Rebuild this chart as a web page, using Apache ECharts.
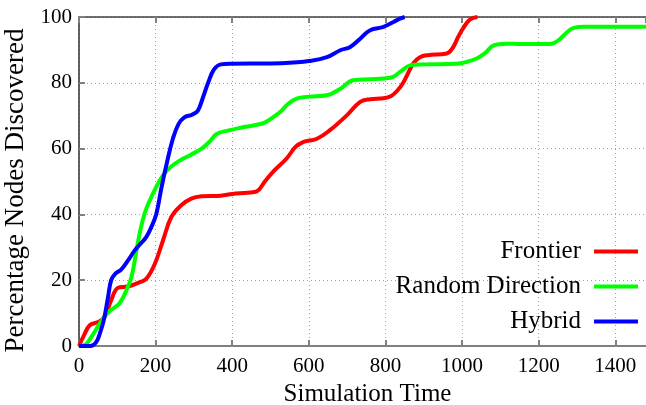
<!DOCTYPE html>
<html><head><meta charset="utf-8">
<script src="https://cdn.jsdelivr.net/npm/echarts@6/dist/echarts.min.js"></script>
<style>html,body{margin:0;padding:0;background:#fff}#c{width:646px;height:405px}</style>
</head><body><div id="c"></div>
<script>
var seriesNames = ['Frontier', 'Random Direction', 'Hybrid'];
var xTicks = [0, 200, 400, 600, 800, 1000, 1200, 1400];
var yTicks = [0, 20, 40, 60, 80, 100];

var frontierX = [0,12,28,50,67,84,102,128,154,176,198,219,241,267,293,320,370,400,440,464,485,507,542,565,585,621,655,699,734,760,795,815,830,847,873,890,910,960,975,990,1005,1021,1040];
var frontierY = [0,3,6.3,7.3,8.8,13.9,17.7,18.1,19.2,20.5,25,32,39.2,42.8,44.8,45.5,45.7,46.2,46.6,47,50,53,57,60.5,62,63,65.6,70.1,74.2,75,75.3,76,77.5,80.2,86,87.8,88.4,88.9,90.5,94,97,99.3,100];

var randomX = [0,15,32,54,70,84,106,124,137,150,158,171,185,200,220,240,265,290,320,340,360,394,420,481,500,525,545,568,600,647,682,716,760,795,820,838,864,900,986,1010,1038,1060,1082,1117,1152,1230,1250,1265,1291,1320,1480];
var randomY = [0,0.3,2.7,6.8,9.5,11,13,17,21,29,34,40.2,44.3,48,52,54.5,56.5,58,60,62,64.5,65.6,66.3,67.7,69,71.1,73.5,75.2,75.8,76.2,78.2,80.8,81.1,81.3,81.8,83.3,85.3,85.6,85.8,86.3,87.4,89,91.4,91.9,91.8,91.8,92.8,94.4,96.7,97,97];

var hybridX = [0,30,45,55,65,76,84,95,110,128,145,160,175,189,202,215,230,245,260,275,295,310,322,337,352,370,400,500,560,600,647,682,708,734,760,795,821,838,850];
var hybridY = [0,0,1.2,4,8,15,20,22,23.2,26,29,31,33,36.2,40.2,48,56,63,67.5,69.5,70.3,71.5,75,80,84,85.6,85.8,85.9,86.2,86.6,87.8,89.9,90.9,93.4,96,97,98.5,99.5,100];

function zip(xs, ys) { return xs.map(function (x, i) { return [x, ys[i]]; }); }

var FONT = 'Liberation Serif';
var chart = echarts.init(document.getElementById('c'), null, {renderer: 'canvas'});
var gridLine = {show: true, lineStyle: {color: '#a0a0a0', type: [1, 3], width: 1}};
chart.setOption({
  animation: false,
  backgroundColor: '#fff',
  grid: {left: 79, right: 0, top: 17, bottom: 59, containLabel: false, outerBoundsMode: 'none'},
  legend: {
    orient: 'vertical', align: 'right', right: 8, top: 239, padding: 0,
    itemWidth: 44, itemHeight: 4, itemGap: 10, icon: 'rect',
    textStyle: {fontFamily: FONT, fontSize: 25, color: '#000', padding: [0, 8, 0, 0]},
    data: seriesNames
  },
  xAxis: [{
    type: 'value', min: 0, max: 1480, interval: 200,
    name: 'Simulation Time', nameLocation: 'middle', nameGap: 36,
    nameTextStyle: {fontFamily: FONT, fontSize: 25, color: '#000', padding: [0, 0, 0, 10]},
    axisLine: {lineStyle: {color: '#808080', width: 2}},
    axisTick: {inside: true, length: 6, lineStyle: {color: '#808080', width: 2}},
    axisLabel: {fontFamily: FONT, fontSize: 21, color: '#000', margin: 10, showMaxLabel: false,
      formatter: function (v) { return xTicks.indexOf(v) >= 0 ? String(v) : ''; }},
    splitLine: gridLine
  }, {
    type: 'value', min: 0, max: 1480, interval: 200, position: 'top',
    axisLine: {onZero: false, lineStyle: {color: '#404040', width: 1.5}},
    axisTick: {inside: true, length: 6, lineStyle: {color: '#808080', width: 2}},
    axisLabel: {show: false}, splitLine: {show: false}
  }],
  yAxis: {
    type: 'value', min: 0, max: 100, interval: 20,
    name: 'Percentage Nodes Discovered', nameLocation: 'middle', nameGap: 42,
    nameTextStyle: {fontFamily: FONT, fontSize: 27, color: '#000', padding: [0, 18, 0, 0]},
    axisLine: {show: true, lineStyle: {color: '#303030', width: 1.5}},
    axisTick: {show: true, inside: true, length: 6, lineStyle: {color: '#808080', width: 2}},
    axisLabel: {fontFamily: FONT, fontSize: 21, color: '#000', margin: 7,
      formatter: function (v) { return yTicks.indexOf(v) >= 0 ? String(v) : ''; }},
    splitLine: gridLine
  },
  series: [
    {name: seriesNames[0], type: 'line', data: zip(frontierX, frontierY), showSymbol: false, smooth: 0.4, color: '#ff0000', lineStyle: {width: 4}},
    {name: seriesNames[1], type: 'line', data: zip(randomX, randomY), showSymbol: false, smooth: 0.4, color: '#00ff00', lineStyle: {width: 4}},
    {name: seriesNames[2], type: 'line', data: zip(hybridX, hybridY), showSymbol: false, smooth: 0.4, color: '#0000ff', lineStyle: {width: 4}}
  ]
});
</script></body></html>
